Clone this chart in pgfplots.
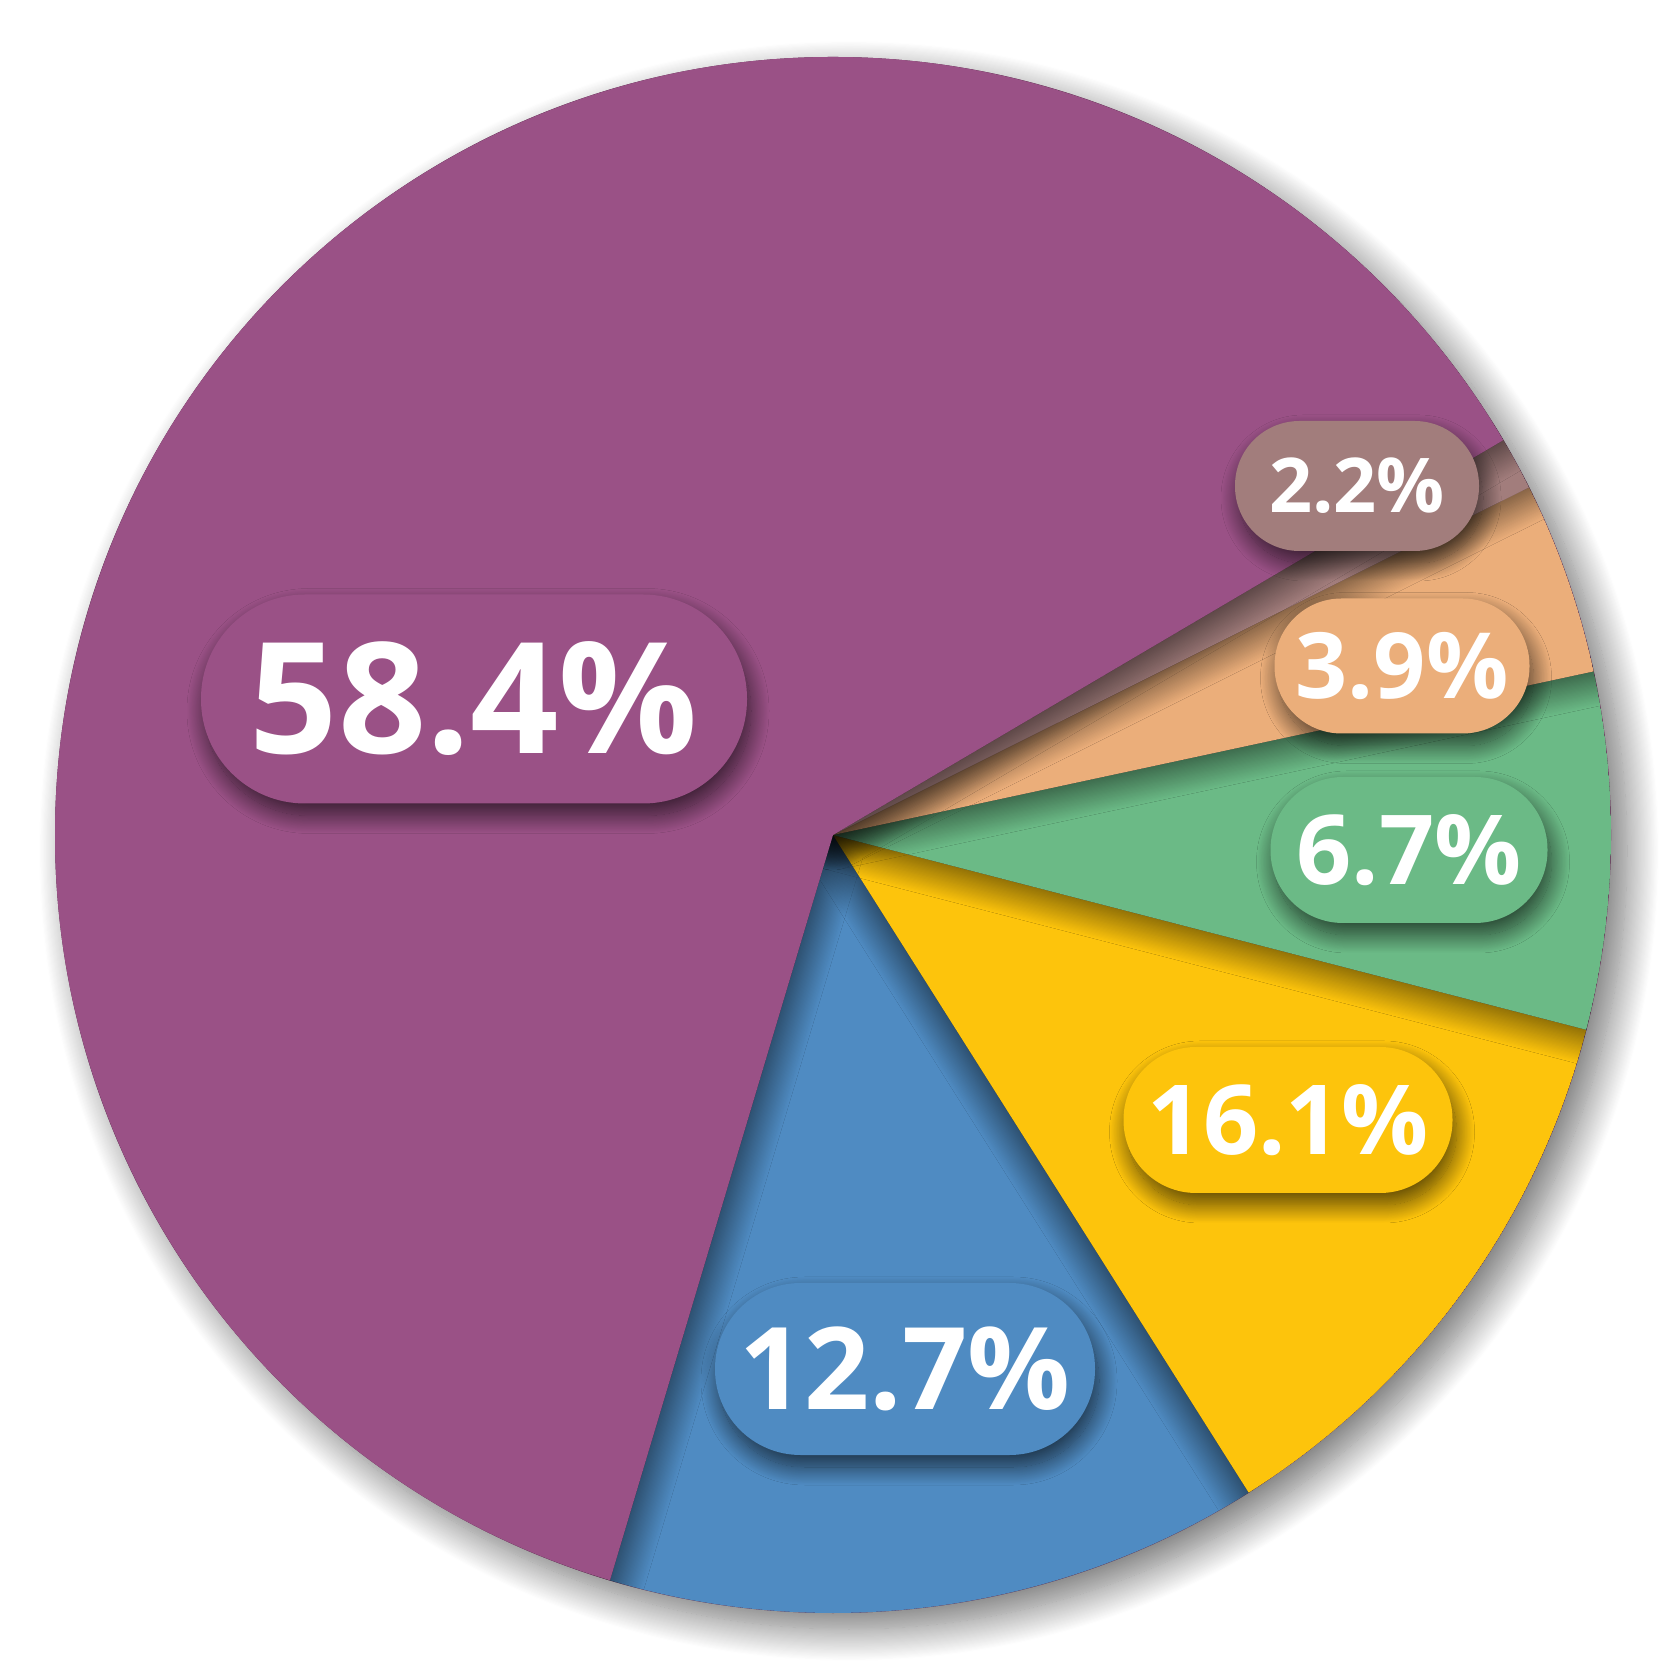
\documentclass[border=0pt]{standalone}
\usepackage{pgfplots}
\pgfplotsset{compat=1.18}
\usepackage{fontspec}
\setmainfont{Open Sans}
\usetikzlibrary{shadows.blur}

\definecolor{piePurple}{HTML}{9A5186}
\definecolor{pieBlue}{HTML}{4F8BC2}
\definecolor{pieYellow}{HTML}{FDC40C}
\definecolor{pieGreen}{HTML}{6BBA86}
\definecolor{pieOrange}{HTML}{EBAE7A}
\definecolor{pieBrown}{HTML}{A27D7C}

% one wedge: start angle, share in percent, colour (drawn clockwise)
\newcommand{\slice}[3]{%
  \fill[#3, blur shadow={shadow xshift=0mm, shadow yshift=0mm,
        shadow blur radius=3.5mm, shadow blur steps=30, shadow opacity=85}]
    (axis cs:833,836) -- ++(#1:77.8mm)
    arc[start angle=#1, delta angle={-3.6*#2}, radius=77.8mm] -- cycle;}

\tikzset{pill/.style={rounded corners=#1, inner sep=0pt, text=white,
  blur shadow={shadow xshift=0.4mm, shadow yshift=-1.2mm,
               shadow blur radius=1.8mm, shadow blur steps=25, shadow opacity=65}}}

\begin{document}
\begin{tikzpicture}
\begin{axis}[
    scale only axis,
    width=168mm, height=167.1mm,
    xmin=0, xmax=1680, ymin=0, ymax=1671,
    hide axis, clip=false,
]
% outer shadow of the whole pie
\fill[piePurple, blur shadow={shadow xshift=1.6mm, shadow yshift=-1.6mm,
      shadow blur radius=3.2mm, shadow blur steps=30, shadow opacity=55}]
  (axis cs:833,836) circle[radius=77.8mm];

\begin{scope}
\clip (axis cs:833,836) circle[radius=77.8mm];
\slice{-57.70}{13.6}{pieBlue}
\slice{-14.50}{12.0}{pieYellow}
\slice{12.14}{7.4}{pieGreen}
\slice{26.54}{4.0}{pieOrange}
\slice{30.50}{1.1}{pieBrown}
\slice{-106.66}{61.9}{piePurple}
\end{scope}

\node[pill=10.4mm, fill=piePurple, minimum width=54.6mm, minimum height=20.9mm,
      font=\fontsize{44}{50}\selectfont\bfseries] at (axis cs:474,972) {58.4\%};
\node[pill=8.55mm, fill=pieBlue, minimum width=38.0mm, minimum height=17.2mm,
      font=\fontsize{32.5}{38}\selectfont\bfseries] at (axis cs:905,302) {12.7\%};
\node[pill=7.25mm, fill=pieYellow, minimum width=32.9mm, minimum height=14.6mm,
      font=\fontsize{27.5}{33}\selectfont\bfseries] at (axis cs:1288,551) {16.1\%};
\node[pill=7.25mm, fill=pieGreen, minimum width=27.7mm, minimum height=14.6mm,
      font=\fontsize{27.5}{32}\selectfont\bfseries] at (axis cs:1409,821) {6.7\%};
\node[pill=6.7mm, fill=pieOrange, minimum width=25.5mm, minimum height=13.5mm,
      font=\fontsize{26}{30}\selectfont\bfseries] at (axis cs:1402,1005) {3.9\%};
\node[pill=6.45mm, fill=pieBrown, minimum width=24.4mm, minimum height=13.0mm,
      font=\fontsize{21.5}{26}\selectfont\bfseries] at (axis cs:1357,1185) {2.2\%};
\end{axis}
\pgfresetboundingbox
\path (current axis.south west) rectangle (current axis.north east);
\end{tikzpicture}
\end{document}
